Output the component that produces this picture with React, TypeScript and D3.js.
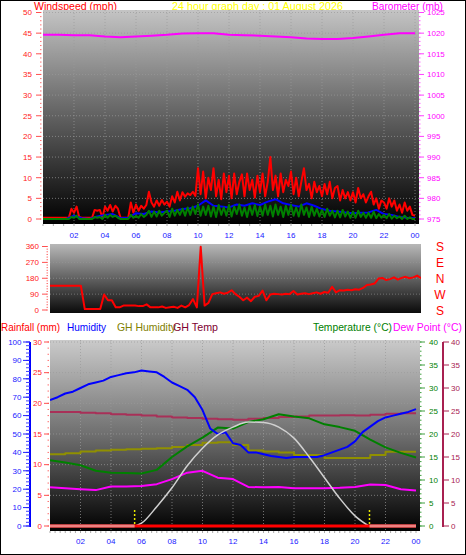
import React from "react";
import * as d3 from "d3";

const W = 466;
const H = 555;
const FONT = "'Liberation Sans', Arial, sans-serif";

// ---------- tick labels ----------
const hourLabels = ["02", "04", "06", "08", "10", "12", "14", "16", "18", "20", "22", "00"];
const windTicks = [0, 5, 10, 15, 20, 25, 30, 35, 40, 45, 50];
const baroTicks = [975, 980, 985, 990, 995, 1000, 1005, 1010, 1015, 1020, 1025];
const dirTicks = [0, 90, 180, 270, 360];
const compass = ["S", "W", "N", "E", "S"]; // bottom to top
const humTicks = [0, 10, 20, 30, 40, 50, 60, 70, 80, 90, 100];
const rainTicks = [0, 5, 10, 15, 20, 25, 30];
const tempTicks = [0, 5, 10, 15, 20, 25, 30, 35, 40];

// ---------- top chart: wind (10-minute samples, 00:00 .. 24:00) ----------
const windGust = [
  0.3, 0.3, 0.3, 0.3, 0.3, 0.3,
  0.3, 0.3, 0.3, 0.3, 0.3, 2.5,
  1.5, 3.0, 0.5, 0.3, 0.3, 0.3,
  0.3, 0.3, 2.2, 2.0, 2.2, 0.3,
  3.0, 2.0, 3.4, 1.8, 3.2, 2.5,
  0.3, 0.3, 0.3, 0.3, 4.0, 1.5,
  3.5, 2.0, 3.2, 2.5, 3.4, 6.6,
  4.0, 3.0, 4.5, 3.2, 4.6, 3.5,
  4.2, 3.0, 5.5, 4.0, 6.6, 4.5,
  6.5, 5.4, 6.2, 5.8, 6.6, 5.6,
  12.3, 6.0, 11.5, 5.0, 10.0, 7.0,
  12.3, 5.5, 9.5, 4.8, 11.0, 6.5,
  10.5, 5.0, 11.0, 6.0, 9.0, 10.8,
  5.5, 11.0, 7.0, 9.5, 5.2, 10.5,
  6.5, 11.0, 5.5, 9.0, 15.0, 7.0,
  10.5, 5.5, 11.0, 6.5, 9.5, 8.0,
  11.5, 6.0, 10.0, 5.5, 9.0, 12.3,
  7.0, 8.5, 5.0, 9.0, 6.5, 8.0,
  5.5, 8.5, 6.0, 9.0, 5.0, 7.5,
  8.0, 4.5, 7.0, 5.0, 6.5, 4.5,
  6.5, 4.0, 7.5, 5.0, 6.0, 4.0,
  5.5, 6.6, 3.5, 5.0, 2.5, 4.5,
  4.0, 2.5, 5.0, 3.0, 4.5, 2.0,
  3.5, 1.5, 4.0, 2.0, 3.0, 1.0,
  0.8,
];
const windSpeed = [
  0, 0, 0, 0, 0, 0,
  0, 0, 0, 0, 0, 0.5,
  0.3, 0.8, 0, 0, 0, 0,
  0, 0, 0.5, 0.3, 0.5, 0,
  1.0, 0.3, 1.0, 0.5, 0.8, 0.3,
  0, 0, 0, 0, 1.0, 0.3,
  0.8, 0.3, 1.2, 0.5, 1.0, 2.0,
  0.5, 1.8, 0.6, 2.0, 0.8, 1.5,
  2.0, 0.5, 2.5, 0.8, 2.2, 1.0,
  2.5, 0.8, 2.8, 1.0, 3.0, 1.2,
  3.5, 0.8, 3.0, 1.0, 3.2, 0.6,
  3.0, 0.5, 3.4, 1.0, 2.8, 0.8,
  3.4, 0.6, 3.0, 1.2, 3.5, 0.8,
  2.8, 0.5, 3.2, 1.0, 3.4, 0.7,
  3.0, 0.8, 3.5, 1.0, 3.2, 0.6,
  3.5, 1.0, 3.0, 0.5, 3.2, 1.0,
  3.4, 0.8, 2.8, 0.6, 3.5, 1.0,
  2.8, 0.5, 3.0, 0.8, 2.5, 0.6,
  2.2, 0.5, 2.5, 0.8, 2.0, 0.4,
  2.0, 0.4, 2.2, 0.6, 1.8, 0.3,
  1.8, 0.3, 2.0, 0.5, 1.5, 0.3,
  1.5, 0.3, 1.8, 0.2, 1.2, 0.3,
  1.0, 0.2, 1.2, 0.1, 0.8, 0.2,
  0.6, 0, 0.8, 0, 0.4, 0,
  0,
];
// half-hourly average wind
const windAvg = [
  0, 0, 0, 0, 0.8, 0.2, 0, 0.6, 1.0, 1.2, 0.2, 0.3,
  1.4, 1.2, 1.8, 1.6, 1.8, 2.0, 2.4, 2.6, 3.2, 4.5, 3.2, 3.0,
  2.8, 3.5, 3.2, 3.8, 3.4, 4.2, 4.8, 3.8, 3.4, 3.0, 3.8, 3.2,
  2.4, 2.0, 1.8, 1.6, 1.4, 1.5, 1.6, 2.2, 1.2, 1.0, 0.5, 0.3, 0.2,
];
// hourly barometer (mb)
const baro = [
  1019.6, 1019.6, 1019.5, 1019.5, 1019.2, 1019.0, 1019.2, 1019.4, 1019.6, 1019.9,
  1020.0, 1020.0, 1019.6, 1019.5, 1019.4, 1019.2, 1019.0, 1018.7, 1018.6, 1018.6,
  1018.8, 1019.2, 1019.6, 1020.0, 1020.0,
];

// ---------- middle chart: wind direction (15-minute samples) ----------
const windDir = [
  137, 137, 137, 137, 137, 137, 137, 137, 137, 5, 5, 5, 5, 5, 88, 55,
  55, 15, 15, 25, 25, 25, 25, 22, 22, 32, 15, 15, 15, 20, 12, 15,
  18, 12, 25, 15, 28, 62, 15, 358, 25, 40, 90, 95, 100, 92, 98, 112,
  90, 75, 55, 70, 50, 75, 80, 110, 55, 88, 92, 90, 88, 92, 90, 108,
  88, 92, 95, 90, 95, 100, 92, 102, 98, 132, 100, 112, 110, 115, 112, 118,
  115, 125, 142, 145, 150, 178, 182, 170, 175, 185, 172, 182, 188, 180, 185, 195,
  180,
];

// ---------- bottom chart ----------
// half-hourly humidity (%)
const humidity = [
  68.5, 70, 72, 73, 75, 77, 78, 79, 81, 82, 83, 83.5,
  84.5, 84, 83.5, 81, 78, 76, 74, 70, 63, 53, 50, 51,
  45, 44, 40, 40, 39, 38, 37.5, 37, 37.5, 37.5, 37.5, 37.5,
  38.5, 40, 41.5, 43, 46, 51, 54, 57, 59, 60, 61, 62, 63.5,
];
// hourly values
const ghHumidity = [
  39, 39.5, 40.5, 41, 41.5, 41.7, 42, 42.3, 43, 44, 45.3, 45.5, 44,
  41, 40.5, 40, 38.6, 38.6, 37, 37, 37, 38.6, 40.4, 40.4, 40.4,
];
const ghTemp = [
  24.8, 24.8, 24.6, 24.5, 24.3, 24.2, 24.0, 23.8, 23.6, 23.5, 23.3, 23.2, 23.1,
  23.3, 23.5, 23.7, 23.8, 24.0, 24.0, 24.1, 24.0, 24.2, 24.4, 24.5, 24.5,
];
const temperature = [
  14.3, 13.8, 13.2, 12.0, 11.6, 11.5, 11.4, 12.2, 15.0, 17.3, 19.2, 21.4, 21.2,
  22.6, 23.2, 24.3, 23.8, 23.4, 22.1, 21.5, 20.7, 18.8, 17.1, 15.9, 14.9,
];
const dewPoint = [
  8.4, 8.2, 8.0, 7.8, 8.6, 8.6, 8.7, 9.1, 10.2, 11.6, 12.0, 10.5, 10.2,
  8.5, 8.4, 8.5, 8.2, 8.2, 8.2, 8.3, 8.5, 9.0, 8.9, 8.0, 7.7,
];
const rainfall = [0, 0];
const solarHours = [5.6, 6, 7, 8, 9, 10, 11, 12, 13, 14, 15, 16, 17, 18, 19, 20, 20.9];
const solarValues = [0, 0.6, 4.2, 8.3, 13.1, 16.9, 19.8, 21.5, 22.6, 22.5, 21.5, 19.1, 15.0, 10.5, 6.0, 2.2, 0];
const sunrise = 5.55;
const sunset = 20.95;

// ---------- scales ----------
const xTop = d3.scaleLinear().domain([0, 24]).range([43, 415]);
const yWind = d3.scaleLinear().domain([0, 50]).range([219, 12.5]);
const yBaro = d3.scaleLinear().domain([975, 1025]).range([219, 12.5]);

const xMid = d3.scaleLinear().domain([0, 24]).range([50, 421]);
const yDir = d3.scaleLinear().domain([0, 360]).range([310, 246.5]);

const xBot = d3.scaleLinear().domain([0, 24]).range([50, 416]);
const yHum = d3.scaleLinear().domain([0, 100]).range([526, 342]);
const yRain = d3.scaleLinear().domain([0, 30]).range([526, 342]);
const yTemp = d3.scaleLinear().domain([0, 40]).range([526, 342]);

const TOP = { x0: 43, x1: 419, y0: 10, y1: 224 };
const MID = { x0: 50, x1: 421, y0: 244, y1: 313 };
const BOT = { x0: 50, x1: 420, y0: 340, y1: 531 };

function seriesPath(values: number[], step: number, x: any, y: any, curve: any = d3.curveLinear) {
  return d3
    .line<number>()
    .x((_, i) => x(i * step))
    .y((d) => y(d))
    .curve(curve)(values) as string;
}

const GRID = "#9a9a9a";

export default function App() {
  const hourPos = hourLabels.map((_, i) => (i + 1) * 2);

  const gustPath = seriesPath(windGust, 1 / 6, xTop, yWind);
  const speedPath = seriesPath(windSpeed, 1 / 6, xTop, yWind);
  const avgPath = seriesPath(windAvg, 0.5, xTop, yWind);
  const baroPath = seriesPath(baro, 1, xTop, yBaro);
  const dirPath = seriesPath(windDir, 0.25, xMid, yDir);
  const humPath = seriesPath(humidity, 0.5, xBot, yHum);
  const ghHumPath = seriesPath(ghHumidity, 1, xBot, yHum, d3.curveStepAfter);
  const ghTempPath = seriesPath(ghTemp, 1, xBot, yTemp, d3.curveStepAfter);
  const tempPath = seriesPath(temperature, 1, xBot, yTemp);
  const dewPath = seriesPath(dewPoint, 1, xBot, yTemp);
  const rainPath = seriesPath(rainfall, 24, xBot, yRain);
  const solarPath = d3
    .line<number>()
    .x((_, i) => xBot(solarHours[i]))
    .y((d) => yTemp(d))
    .curve(d3.curveMonotoneX)(solarValues) as string;

  const minorTop = d3.range(0, 51, 1);
  const minorDir = d3.range(0, 361, 15);
  const minorHum = d3.range(0, 101, 2);
  const minorRain = d3.range(0, 31, 1);
  const minorTemp = d3.range(0, 41, 1);
  const xMinorTop = d3.range(0, 24.01, 2 / 3);
  const xMinorBot = d3.range(0, 24.01, 1 / 3);

  return (
    <svg
      width={W}
      height={H}
      style={{ position: "absolute", left: 0, top: 0, background: "#fff" }}
      fontFamily={FONT}
    >
      <defs>
        <linearGradient id="gTop" x1="0" y1="0" x2="0" y2="1">
          <stop offset="0" stopColor="#c4c4c4" />
          <stop offset="0.45" stopColor="#6a6a6a" />
          <stop offset="1" stopColor="#000" />
        </linearGradient>
        <linearGradient id="gMid" x1="0" y1="0" x2="0" y2="1">
          <stop offset="0" stopColor="#b8b8b8" />
          <stop offset="1" stopColor="#0a0a0a" />
        </linearGradient>
        <linearGradient id="gBot" x1="0" y1="0" x2="0" y2="1">
          <stop offset="0" stopColor="#cacaca" />
          <stop offset="0.5" stopColor="#6e6e6e" />
          <stop offset="1" stopColor="#000" />
        </linearGradient>
        <clipPath id="cTop">
          <rect x={TOP.x0} y={TOP.y0} width={TOP.x1 - TOP.x0} height={TOP.y1 - TOP.y0} />
        </clipPath>
        <clipPath id="cMid">
          <rect x={MID.x0} y={MID.y0} width={MID.x1 - MID.x0} height={MID.y1 - MID.y0} />
        </clipPath>
        <clipPath id="cBot">
          <rect x={BOT.x0} y={BOT.y0} width={BOT.x1 - BOT.x0} height={BOT.y1 - BOT.y0} />
        </clipPath>
      </defs>

      {/* frame */}
      <rect x={0.5} y={0.5} width={W - 1} height={H - 1} fill="#fff" stroke="#000" />

      {/* ================= TOP CHART ================= */}
      <text x={34} y={9.5} fontSize={11.5} fill="#ff0000" textLength={83} lengthAdjust="spacingAndGlyphs">Windspeed (mph)</text>
      <text x={172} y={9.5} fontSize={11.5} fill="#ffff00" textLength={171} lengthAdjust="spacingAndGlyphs">24 hour graph day : 01 August 2026</text>
      <text x={372} y={9.5} fontSize={11.5} fill="#ff00ff" textLength={71} lengthAdjust="spacingAndGlyphs">Barometer (mb)</text>

      <rect x={TOP.x0} y={TOP.y0} width={TOP.x1 - TOP.x0} height={TOP.y1 - TOP.y0} fill="url(#gTop)" />
      {windTicks.slice(1).map((v) => (
        <line key={"gw" + v} x1={TOP.x0} x2={TOP.x1} y1={yWind(v)} y2={yWind(v)} stroke={GRID} strokeDasharray="1,2" strokeOpacity={0.7} />
      ))}
      {hourPos.map((h) => (
        <line key={"gv" + h} x1={xTop(h)} x2={xTop(h)} y1={TOP.y0} y2={TOP.y1} stroke={GRID} strokeDasharray="1,2" strokeOpacity={0.7} />
      ))}
      <g clipPath="url(#cTop)" fill="none" strokeLinejoin="round">
        <path d={gustPath} stroke="#ff0000" strokeWidth={2} />
        <path d={avgPath} stroke="#0000ff" strokeWidth={2} />
        <path d={speedPath} stroke="#008000" strokeWidth={2} />
        <path d={baroPath} stroke="#ff00ff" strokeWidth={2} />
      </g>
      {/* left wind axis */}
      {minorTop.map((v) => (
        <line key={"mw" + v} x1={40} x2={41.5} y1={yWind(v)} y2={yWind(v)} stroke="#ff7070" />
      ))}
      {windTicks.map((v) => (
        <g key={"tw" + v}>
          <line x1={36} x2={41} y1={yWind(v)} y2={yWind(v)} stroke="#ff5050" />
          <text x={32} y={yWind(v) + 2.8} fontSize={8} fill="#ff2020" textAnchor="end">{v}</text>
        </g>
      ))}
      {/* right barometer axis */}
      {minorTop.map((v) => (
        <line key={"mb" + v} x1={419} x2={420.5} y1={yWind(v)} y2={yWind(v)} stroke="#ff60ff" />
      ))}
      {baroTicks.map((v) => (
        <g key={"tb" + v}>
          <line x1={419} x2={424} y1={yBaro(v)} y2={yBaro(v)} stroke="#ff40ff" />
          <text x={427} y={yBaro(v) + 2.8} fontSize={8} fill="#ff00ff">{v}</text>
        </g>
      ))}
      {/* x ticks/labels */}
      {xMinorTop.map((h, i) => (
        <line key={"xt" + i} x1={xTop(h)} x2={xTop(h)} y1={TOP.y1} y2={TOP.y1 + 2} stroke="#aaaaaa" />
      ))}
      {hourLabels.map((l, i) => (
        <text key={"xl" + i} x={xTop(hourPos[i])} y={238} fontSize={8} fill="#2020ff" textAnchor="middle">{l}</text>
      ))}

      {/* ================= MIDDLE CHART ================= */}
      <rect x={MID.x0} y={MID.y0} width={MID.x1 - MID.x0} height={MID.y1 - MID.y0} fill="url(#gMid)" />
      {dirTicks.slice(1, 4).map((v) => (
        <line key={"gd" + v} x1={MID.x0} x2={MID.x1} y1={yDir(v)} y2={yDir(v)} stroke={GRID} strokeDasharray="1,2" strokeOpacity={0.6} />
      ))}
      <g clipPath="url(#cMid)" fill="none">
        <path d={dirPath} stroke="#ff0000" strokeWidth={2} strokeLinejoin="round" />
      </g>
      {minorDir.map((v) => (
        <line key={"md" + v} x1={46.5} x2={48} y1={yDir(v)} y2={yDir(v)} stroke="#ff7070" />
      ))}
      {dirTicks.map((v) => (
        <g key={"td" + v}>
          <line x1={42} x2={47} y1={yDir(v)} y2={yDir(v)} stroke="#ff5050" />
          <text x={39} y={yDir(v) + 2.8} fontSize={8} fill="#ff2020" textAnchor="end">{v}</text>
        </g>
      ))}
      {compass.map((c, i) => (
        <text key={"c" + i} x={440} y={yDir(dirTicks[i]) + 4.5} fontSize={12} fill="#ff0000" textAnchor="middle">{c}</text>
      ))}

      {/* ================= BOTTOM CHART ================= */}
      <text x={1} y={331} fontSize={11.5} fill="#ff0000" textLength={59} lengthAdjust="spacingAndGlyphs">Rainfall (mm)</text>
      <text x={67} y={331} fontSize={11.5} fill="#0000ff" textLength={39} lengthAdjust="spacingAndGlyphs">Humidity</text>
      <text x={117} y={331} fontSize={11.5} fill="#808000" textLength={59} lengthAdjust="spacingAndGlyphs">GH Humidity</text>
      <text x={173} y={331} fontSize={11.5} fill="#800030" textLength={45} lengthAdjust="spacingAndGlyphs">GH Temp</text>
      <text x={313} y={331} fontSize={11.5} fill="#008000" textLength={79} lengthAdjust="spacingAndGlyphs">Temperature (°C)</text>
      <text x={393} y={331} fontSize={11.5} fill="#ff00ff" textLength={69} lengthAdjust="spacingAndGlyphs">Dew Point (°C)</text>

      <rect x={BOT.x0} y={BOT.y0} width={BOT.x1 - BOT.x0} height={BOT.y1 - BOT.y0} fill="url(#gBot)" />
      {rainTicks.slice(1).map((v) => (
        <line key={"gr" + v} x1={BOT.x0} x2={BOT.x1} y1={yRain(v)} y2={yRain(v)} stroke={GRID} strokeDasharray="1,2" strokeOpacity={0.7} />
      ))}
      {hourPos.slice(0, 11).map((h) => (
        <line key={"gbv" + h} x1={xBot(h)} x2={xBot(h)} y1={BOT.y0} y2={BOT.y1} stroke={GRID} strokeDasharray="1,2" strokeOpacity={0.7} />
      ))}
      <g clipPath="url(#cBot)" fill="none" strokeLinejoin="round">
        <path d={ghHumPath} stroke="#909000" strokeWidth={2} />
        <path d={ghTempPath} stroke="#a83058" strokeWidth={2} />
        <path d={tempPath} stroke="#008000" strokeWidth={2} />
        <path d={dewPath} stroke="#ff00ff" strokeWidth={2} />
        <path d={humPath} stroke="#0000ff" strokeWidth={2} />
        <path d={solarPath} stroke="#d0d0d0" strokeWidth={1.5} />
        <path d={rainPath} stroke="#ff0000" strokeWidth={3} />
        <line x1={xBot(0)} x2={xBot(sunrise)} y1={yRain(0)} y2={yRain(0)} stroke="#f08080" strokeWidth={3} />
        <line x1={xBot(sunset)} x2={xBot(24)} y1={yRain(0)} y2={yRain(0)} stroke="#f08080" strokeWidth={3} />
        <line x1={xBot(sunrise)} x2={xBot(sunrise)} y1={510} y2={526} stroke="#e8e800" strokeWidth={1.5} strokeDasharray="2,2" />
        <line x1={xBot(sunset)} x2={xBot(sunset)} y1={510} y2={526} stroke="#e8e800" strokeWidth={1.5} strokeDasharray="2,2" />
      </g>

      {/* humidity axis (blue) */}
      <line x1={30} x2={30} y1={342} y2={527} stroke="#0000ff" strokeWidth={2} />
      {minorHum.map((v) => (
        <line key={"mh" + v} x1={26} x2={30} y1={yHum(v)} y2={yHum(v)} stroke="#4040ff" />
      ))}
      {humTicks.map((v) => (
        <g key={"th" + v}>
          <line x1={23} x2={30} y1={yHum(v)} y2={yHum(v)} stroke="#2020ff" />
          <text x={21.5} y={yHum(v) + 2.8} fontSize={8} fill="#2020ff" textAnchor="end">{v}</text>
        </g>
      ))}
      {/* rainfall axis (red) */}
      {minorRain.map((v) => (
        <line key={"mr" + v} x1={47.5} x2={49} y1={yRain(v)} y2={yRain(v)} stroke="#ff7070" />
      ))}
      {rainTicks.map((v) => (
        <g key={"tr" + v}>
          <line x1={44} x2={49} y1={yRain(v)} y2={yRain(v)} stroke="#ff5050" />
          <text x={42} y={yRain(v) + 2.8} fontSize={8} fill="#ff2020" textAnchor="end">{v}</text>
        </g>
      ))}
      {/* temperature axis (green) */}
      {minorTemp.map((v) => (
        <line key={"mt" + v} x1={420} x2={421.5} y1={yTemp(v)} y2={yTemp(v)} stroke="#40a040" />
      ))}
      {tempTicks.map((v) => (
        <g key={"tt" + v}>
          <line x1={420} x2={425} y1={yTemp(v)} y2={yTemp(v)} stroke="#40a040" />
          <text x={429} y={yTemp(v) + 2.8} fontSize={8} fill="#008000">{v}</text>
        </g>
      ))}
      {/* GH temp / dew axis (maroon) */}
      <line x1={443} x2={443} y1={342} y2={527} stroke="#a82050" strokeWidth={2} />
      {tempTicks.map((v) => (
        <g key={"tg" + v}>
          <line x1={443} x2={449} y1={yTemp(v)} y2={yTemp(v)} stroke="#a82050" />
          <text x={451} y={yTemp(v) + 2.8} fontSize={8} fill="#a82050">{v}</text>
        </g>
      ))}
      {/* x ticks/labels */}
      {xMinorBot.map((h, i) => (
        <line key={"xb" + i} x1={xBot(h)} x2={xBot(h)} y1={BOT.y1} y2={BOT.y1 + 2} stroke="#aaaaaa" />
      ))}
      {hourLabels.map((l, i) => (
        <text key={"xbl" + i} x={xBot(hourPos[i])} y={544} fontSize={8} fill="#2020ff" textAnchor="middle">{l}</text>
      ))}
    </svg>
  );
}
